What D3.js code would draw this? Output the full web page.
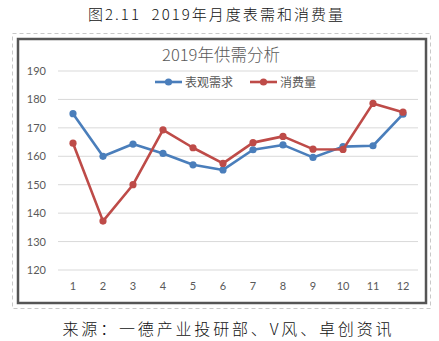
<!DOCTYPE html>
<html><head><meta charset="utf-8">
<script src="https://cdn.jsdelivr.net/npm/d3@7"></script>
<style>body{margin:0;background:#fff}svg{display:block}</style>
</head><body>
<script>
const months = ["1","2","3","4","5","6","7","8","9","10","11","12"];
const demand = [175, 160, 164.3, 161, 157, 155.2, 162.3, 164, 159.6, 163.4, 163.7, 174.8];
const consumption = [164.6, 137.2, 150, 169.3, 163, 157.5, 164.8, 167, 162.5, 162.4, 178.6, 175.5];
const yTicks = [120, 130, 140, 150, 160, 170, 180, 190];
const seriesNames = ["表观需求", "消费量"];
const colors = ["#4A7EBB", "#BE4B48"];

const W = 439, H = 341;
const svg = d3.select("body").append("svg").attr("width", W).attr("height", H);
const cjk = "'Noto Sans CJK SC', 'Noto Sans', sans-serif";
const num = "Lato, 'Open Sans', sans-serif";

svg.append("text").attr("x", 215.5).attr("y", 20).attr("text-anchor", "middle")
  .attr("textLength", 255).attr("lengthAdjust", "spacing")
  .style("white-space", "pre").style("font-weight", 300)
  .style("font-family", cjk).style("font-size", "15px").attr("fill", "#111")
  .text("图2.11  2019年月度表需和消费量");

svg.append("rect").attr("x", 12.5).attr("y", 33.5).attr("width", 418).attr("height", 275)
  .attr("fill", "none").attr("stroke", "#c8c8c8").attr("stroke-dasharray", "4,3");
svg.append("rect").attr("x", 18).attr("y", 39).attr("width", 408).attr("height", 264)
  .attr("fill", "#fff").attr("stroke", "#555").attr("stroke-width", 2.5);

const x = d3.scaleBand().domain(months).range([58, 418]);
const y = d3.scaleLinear().domain([120, 190]).range([270, 71]);

const grid = svg.append("g");
grid.selectAll("line").data(yTicks).join("line")
  .attr("x1", 58).attr("x2", 418).attr("y1", d => y(d)).attr("y2", d => y(d))
  .attr("stroke", "#d9d9d9").attr("stroke-width", 1);

const yAxis = svg.append("g").attr("transform", "translate(50,0)")
  .call(d3.axisLeft(y).tickValues(yTicks).tickSize(0).tickPadding(4));
yAxis.select(".domain").remove();
yAxis.selectAll("text").style("font-family", num).style("font-size", "11px").attr("fill", "#595959");

const xAxis = svg.append("g").attr("transform", "translate(0,280)")
  .call(d3.axisBottom(x).tickSize(0).tickPadding(2));
xAxis.select(".domain").remove();
xAxis.selectAll("text").style("font-family", num).style("font-size", "11px").attr("fill", "#595959");

const line = d3.line().x((d, i) => x(months[i]) + x.bandwidth() / 2).y(d => y(d));
[demand, consumption].forEach((s, k) => {
  svg.append("path").datum(s).attr("d", line).attr("fill", "none")
    .attr("stroke", colors[k]).attr("stroke-width", 2.6).attr("stroke-linejoin", "round");
  svg.append("g").selectAll("circle").data(s).join("circle")
    .attr("cx", (d, i) => x(months[i]) + x.bandwidth() / 2).attr("cy", d => y(d))
    .attr("r", 3.6).attr("fill", colors[k]);
});

svg.append("text").attr("x", 221).attr("y", 61).attr("text-anchor", "middle")
  .style("font-family", cjk).style("font-size", "16.5px").style("font-weight", 300).attr("fill", "#595959")
  .text("2019年供需分析");

const legX = [155, 250];
seriesNames.forEach((n, k) => {
  const g = svg.append("g");
  g.append("line").attr("x1", legX[k]).attr("x2", legX[k] + 27).attr("y1", 82).attr("y2", 82)
    .attr("stroke", colors[k]).attr("stroke-width", 2.6);
  g.append("circle").attr("cx", legX[k] + 13.5).attr("cy", 82).attr("r", 3.6).attr("fill", colors[k]);
  g.append("text").attr("x", legX[k] + 30).attr("y", 86.5)
    .style("font-family", cjk).style("font-size", "12px").attr("fill", "#595959").text(n);
});

svg.append("text").attr("x", 227).attr("y", 335).attr("text-anchor", "middle")
  .attr("textLength", 329).attr("lengthAdjust", "spacing").style("font-weight", 300)
  .style("font-family", cjk).style("font-size", "16px").attr("fill", "#111")
  .text("来源：一德产业投研部、V风、卓创资讯");
</script>
</body></html>
